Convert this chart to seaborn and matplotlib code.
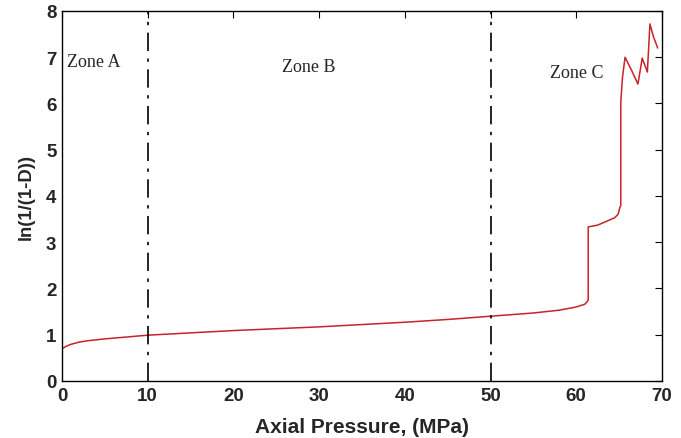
import numpy as np
import matplotlib
matplotlib.use("Agg")
import matplotlib.pyplot as plt
import seaborn as sns
import pandas as pd

# ── Data ────────────────────────────────────────────────────────────────────
pressure = [0.0, 0.5, 1.0, 2.0, 3.0, 5.0, 7.5, 10.0, 15.0, 20.0, 25.0, 30.0,
            35.0, 40.0, 45.0, 50.0, 55.0, 58.0, 60.0, 61.0, 61.3, 61.4,
            61.4, 62.5, 63.5, 64.5, 64.9, 65.1, 65.2, 65.2, 65.4, 65.7,
            66.5, 67.2, 67.7, 68.3, 68.6, 69.0, 69.5]
damage = [0.70, 0.75, 0.79, 0.84, 0.87, 0.91, 0.95, 0.99, 1.04, 1.09, 1.13,
          1.17, 1.22, 1.27, 1.33, 1.40, 1.47, 1.53, 1.60, 1.66, 1.72, 1.76,
          3.33, 3.37, 3.45, 3.53, 3.61, 3.76, 3.79, 6.03, 6.57, 7.00,
          6.70, 6.42, 6.98, 6.68, 7.72, 7.45, 7.20]

zone_x = [10, 50]
zone_labels = ["Zone A", "Zone B", "Zone C"]
zone_pos = [(0.6, 6.9), (25.7, 6.81), (56.9, 6.68)]

df = pd.DataFrame({"p": pressure, "d": damage})

sns.set_style("white")
plt.rcParams.update({
    "font.family": "sans-serif",
    "font.sans-serif": ["Liberation Sans", "DejaVu Sans"],
    "xtick.direction": "in",
    "ytick.direction": "in",
})

fig = plt.figure(figsize=(6.81, 4.39), dpi=100)
ax = fig.add_axes([0.0910, 0.1299, 0.881, 0.8428])

sns.lineplot(data=df, x="p", y="d", ax=ax, color="#c8222b", lw=1.1,
             sort=False, estimator=None)

for xv in zone_x:
    ax.axvline(xv, color="black", lw=1.2, ls=(0, (11, 4.5, 2, 4.5)))

for lab, (xt, yt) in zip(zone_labels, zone_pos):
    ax.text(xt, yt, lab, family="Liberation Serif", fontsize=13,
            ha="left", va="center")

ax.set_xlim(0, 70)
ax.set_ylim(0, 8)
ax.set_xticks(range(0, 71, 10))
ax.set_yticks(range(0, 9))
ax.tick_params(axis="both", which="both", top=True, right=True,
               length=5, width=0.8, labelsize=13.5, color="black", pad=4)
for lbl in ax.get_xticklabels() + ax.get_yticklabels():
    lbl.set_fontweight("bold")
for sp in ax.spines.values():
    sp.set_visible(True)
    sp.set_color("black")
    sp.set_linewidth(1.0)

ax.set_xlabel("Axial Pressure, (MPa)", fontsize=15, fontweight="bold", labelpad=10)
ax.set_ylabel("ln(1/(1-D))", fontsize=13.3, fontweight="bold", labelpad=8)

fig.savefig("out.png", dpi=100)
